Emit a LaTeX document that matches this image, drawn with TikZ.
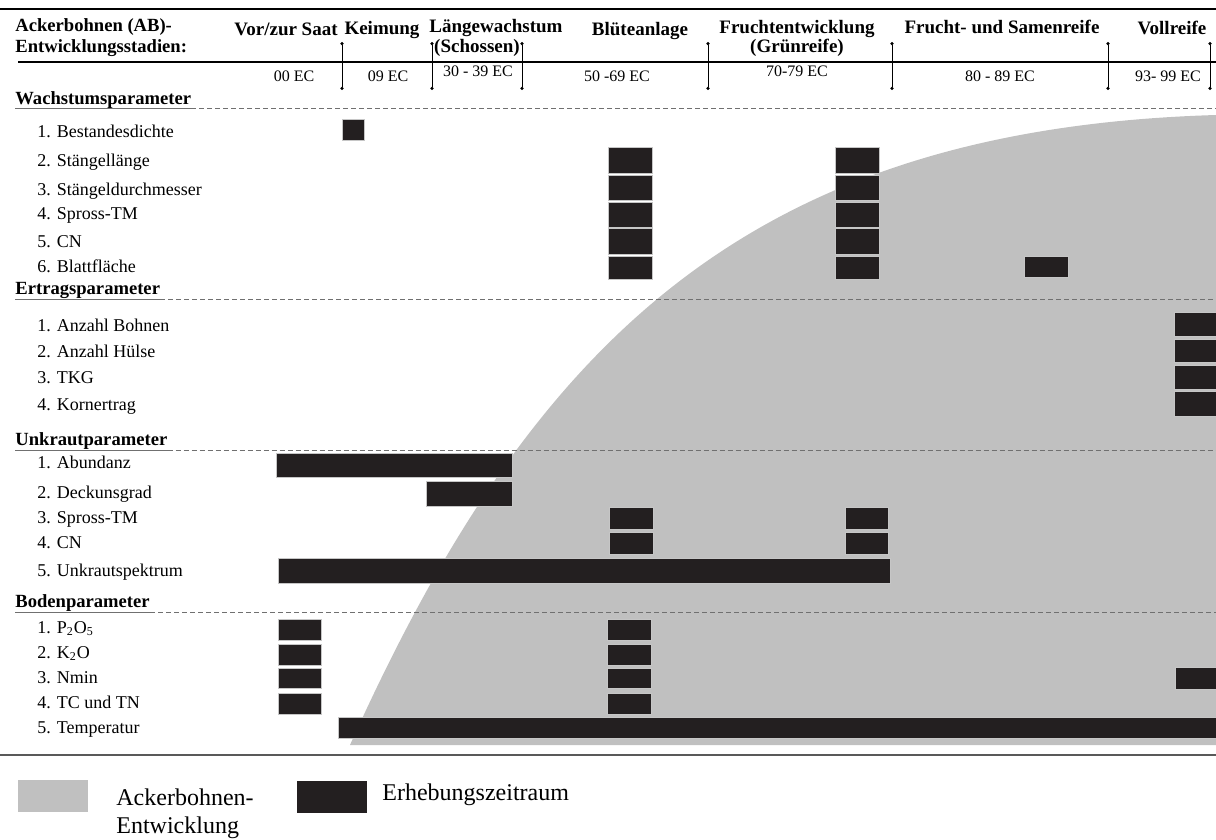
\documentclass[tikz,border=0pt]{standalone}
\usepackage{fontspec}
\setmainfont{Liberation Serif}
\usetikzlibrary{positioning,arrows.meta}
\definecolor{cbar}{HTML}{231F20}
\definecolor{cgrey}{HTML}{C0C0C0}
\definecolor{cdash}{HTML}{707070}
\tikzset{
  stagename/.style={font=\fontsize{9.5}{11}\selectfont\bfseries, anchor=base, inner sep=0pt},
  ecnum/.style={font=\fontsize{8}{9}\selectfont, anchor=base, inner sep=0pt},
  grouphead/.style={font=\fontsize{9.3}{11}\selectfont\bfseries, inner sep=0pt},
  paramlabel/.style={font=\fontsize{9}{11}\selectfont, anchor=base west, inner sep=0pt},
  ebar/.style={fill=cbar, draw=gray!45, line width=0.4pt},
  sepline/.style={dash pattern=on 2.5pt off 1.5pt, draw=cdash, line width=0.5pt},
  stagetick/.style={{Circle[length=1.6pt]}-{Circle[length=1.6pt]}, line width=0.5pt},
  legbox/.style={minimum width=35pt, minimum height=16pt, inner sep=0pt},
  legtext/.style={font=\fontsize{12}{14}\selectfont, anchor=base west, inner sep=0pt}
}

\begin{document}
\begin{tikzpicture}[x=0.5pt, y=-0.5pt]
  \useasboundingbox (0,0) rectangle (1216,840);
  \coordinate (rightedge) at (1216,0);

  % Ackerbohnen-Entwicklung
  \fill[cgrey] (350,745) .. controls (530,345) and (746,129) .. (1216,115)
    -- (1216,745) -- cycle;

  % Kopfzeile
  \draw[line width=1pt] (0,9) -- (1216,9);
  \node[grouphead, anchor=base west] (ab1) at (15,32) {Ackerbohnen (AB)-};
  \node[grouphead, anchor=base west] (ab2) at (15,53) {Entwicklungsstadien:};
  \draw[line width=0.6pt] (18,62) -- (1216,62);

  \node[stagename] (s1) at (286,36) {Vor/zur Saat};
  \node[stagename] (s2) at (382,35) {Keimung};
  \node[stagename] (s3) at (496,33) {Längewachstum};
  \node[stagename] (s3b) at (477,53) {(Schossen)};
  \node[stagename] (s4) at (640,36) {Blüteanlage};
  \node[stagename] (s5) at (797,34) {Fruchtentwicklung};
  \node[stagename] (s5b) at (797,53) {(Grünreife)};
  \node[stagename] (s6) at (1002,34) {Frucht- und Samenreife};
  \node[stagename] (s7) at (1172,35) {Vollreife};

  \node[ecnum] (ec1) at (294,82) {00 EC};
  \node[ecnum] (ec2) at (388,82) {09 EC};
  \node[ecnum] (ec3) at (478,77) {30 - 39 EC};
  \node[ecnum] (ec4) at (617,82) {50 -69 EC};
  \node[ecnum] (ec5) at (797,77) {70-79 EC};
  \node[ecnum] (ec6) at (1000,82) {80 - 89 EC};
  \node[ecnum] (ec7) at (1168,82) {93- 99 EC};

  \foreach \xt in {342,432,522,708,892,1108,1210}
    \draw[stagetick] (\xt,42) -- (\xt,90);

  % Gruppen
  \node[grouphead, anchor=south west] (wachs) at (15,109) {Wachstumsparameter};
  \node[grouphead, anchor=south west] (ertrag) at (15,299) {Ertragsparameter};
  \node[grouphead, anchor=south west] (unkraut) at (15,450) {Unkrautparameter};
  \node[grouphead, anchor=south west] (boden) at (15,612) {Bodenparameter};
  \foreach \g in {wachs,ertrag,unkraut,boden}{
    \draw[line width=0.5pt, draw=cdash] (\g.south west) -- (\g.south east);
    \draw[sepline] (\g.south east) -- (\g.south east -| rightedge);
  }

  \node[paramlabel] (w1) at (37,138) {1. Bestandesdichte};
  \node[paramlabel] (w2) at (37,167) {2. Stängellänge};
  \node[paramlabel] (w3) at (37,195) {3. Stängeldurchmesser};
  \node[paramlabel] (w4) at (37,220) {4. Spross-TM};
  \node[paramlabel] (w5) at (37,248) {5. CN};
  \node[paramlabel] (w6) at (37,272) {6. Blattfläche};

  \node[paramlabel] (e1) at (37,331) {1. Anzahl Bohnen};
  \node[paramlabel] (e2) at (37,357) {2. Anzahl Hülse};
  \node[paramlabel] (e3) at (37,383) {3. TKG};
  \node[paramlabel] (e4) at (37,410) {4. Kornertrag};

  \node[paramlabel] (u1) at (37,468) {1. Abundanz};
  \node[paramlabel] (u2) at (37,498) {2. Deckunsgrad};
  \node[paramlabel] (u3) at (37,523) {3. Spross-TM};
  \node[paramlabel] (u4) at (37,548) {4. CN};
  \node[paramlabel] (u5) at (37,576) {5. Unkrautspektrum};

  \node[paramlabel] (b1) at (37,633) {1. P\textsubscript{2}O\textsubscript{5}};
  \node[paramlabel] (b2) at (37,658) {2. K\textsubscript{2}O};
  \node[paramlabel] (b3) at (37,683) {3. Nmin};
  \node[paramlabel] (b4) at (37,708) {4. TC und TN};
  \node[paramlabel] (b5) at (37,733) {5. Temperatur};

  % Erhebungszeitraum
  \draw[ebar] (342,119) rectangle (364,140);
  \foreach \ya/\yb in {147/173,175/200,202/227,228/254,256/279}{
    \draw[ebar] (608,\ya) rectangle (652,\yb);
    \draw[ebar] (835,\ya) rectangle (879,\yb);
  }
  \draw[ebar] (1024,256) rectangle (1068,277);

  \foreach \ya/\yb in {312/336,339/362,365/389,391/416}
    \draw[ebar] (1174,\ya) rectangle (1216,\yb);

  \draw[ebar] (276,453) rectangle (512,477);
  \draw[ebar] (426,481) rectangle (512,506);
  \foreach \ya/\yb in {507/529,532/554}{
    \draw[ebar] (609,\ya) rectangle (653,\yb);
    \draw[ebar] (845,\ya) rectangle (888,\yb);
  }
  \draw[ebar] (278,558) rectangle (890,583);

  \foreach \ya/\yb in {619/640,644/665,668/688,693/714}{
    \draw[ebar] (278,\ya) rectangle (321,\yb);
    \draw[ebar] (607,\ya) rectangle (651,\yb);
  }
  \draw[ebar] (1175,667) rectangle (1216,689);
  \draw[ebar] (338,717) rectangle (1216,738);

  \draw[line width=0.8pt, draw=gray!70!black] (0,755) -- (1216,755);

  % Legende
  \node[legbox, fill=cgrey] (leggrey) at (53,796) {};
  \node[legbox, fill=cbar] (legblack) at (332,797) {};
  \node[legtext] (legab1) at (116,805) {Ackerbohnen-};
  \node[legtext] (legab2) at (116,833) {Entwicklung};
  \node[legtext] (leger) at (382,800) {Erhebungszeitraum};
\end{tikzpicture}
\end{document}
